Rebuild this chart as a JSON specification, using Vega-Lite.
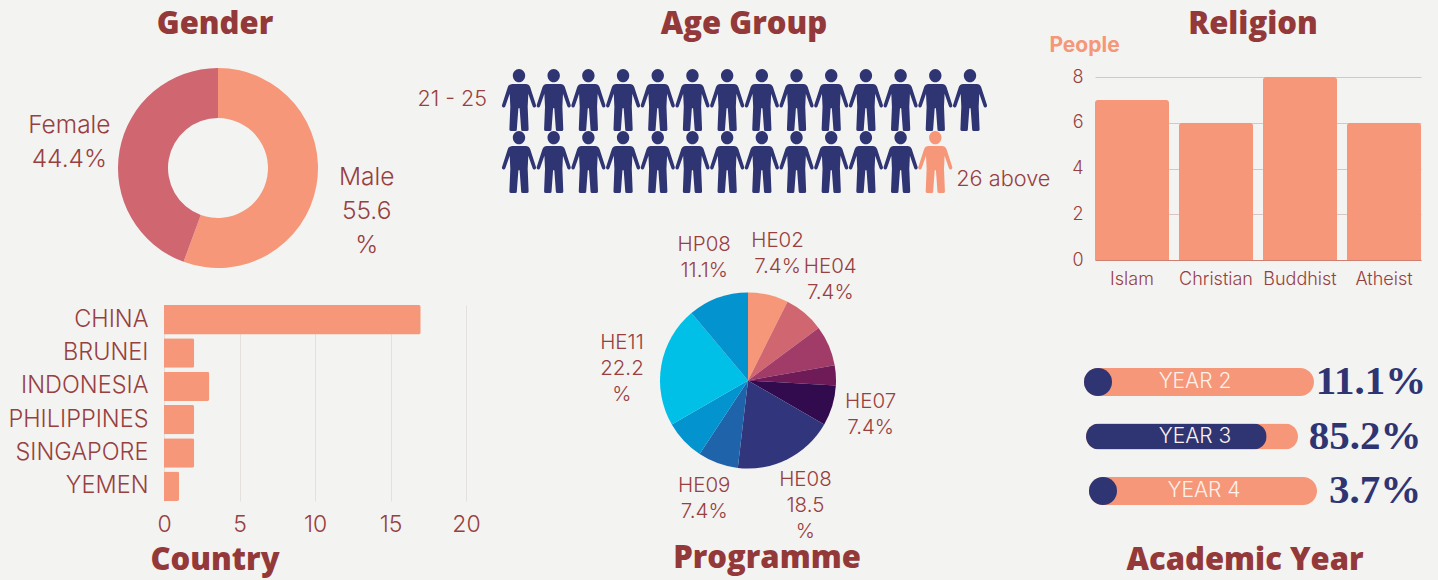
{
"$schema":"https://vega.github.io/schema/vega-lite/v6.json",
"background":"#f3f3f1",
"padding":0,
"spacing":0,
"bounds":"flush",
"align":"none",
"columns":3,
"resolve":{"scale":{"color":"independent","theta":"independent"}},
"config":{"view":{"stroke":null},"font":"Inter","text":{"font":"Inter","color":"#97403f","fontWeight":300},
"title":{"font":"Open Sans","fontWeight":800,"fontSize":31,"color":"#943939","frame":"group"}},
"concat":[
 {"width":436,"height":336,
  "title":{"text":"Gender","orient":"top","anchor":"middle","offset":-41,"dx":-3},
  "data":{"values":[{"gender":"Male","share":55.6,"order":1,"lines":["Male","55.6","%"]},{"gender":"Female","share":44.4,"order":2,"lines":["Female","44.4%"]}]},
  "transform":[{"stack":"share","groupby":[],"sort":[{"field":"order"}],"as":["t0","t1"]},{"calculate":"(datum.t0+datum.t1)/2","as":"tm"}],
  "layer":[
   {"mark":{"type":"arc","innerRadius":50,"outerRadius":100},
    "encoding":{"theta":{"field":"t0","type":"quantitative","stack":null,"scale":{"domain":[0,100],"range":[0,6.2832]}},"theta2":{"field":"t1"},
     "color":{"field":"gender","type":"nominal","legend":null,"scale":{"domain":["Male","Female"],"range":["#f59778","#cf6670"]}}}},
   {"mark":{"type":"text","radius":151,"dy":-16,"fontSize":24.5,"lineHeight":34},
    "encoding":{"theta":{"field":"tm","type":"quantitative","stack":null},"text":{"field":"lines"}}}
  ]},
 {"width":624,"height":336,
  "title":{"text":"Age Group","orient":"top","anchor":"middle","offset":-41,"dx":-4},
  "data":{"values":[
   {"col":1,"row":1,"group":"21 - 25"},{"col":2,"row":1,"group":"21 - 25"},{"col":3,"row":1,"group":"21 - 25"},{"col":4,"row":1,"group":"21 - 25"},{"col":5,"row":1,"group":"21 - 25"},{"col":6,"row":1,"group":"21 - 25"},{"col":7,"row":1,"group":"21 - 25"},{"col":8,"row":1,"group":"21 - 25"},{"col":9,"row":1,"group":"21 - 25"},{"col":10,"row":1,"group":"21 - 25"},{"col":11,"row":1,"group":"21 - 25"},{"col":12,"row":1,"group":"21 - 25"},{"col":13,"row":1,"group":"21 - 25"},{"col":14,"row":1,"group":"21 - 25"},
   {"col":1,"row":2,"group":"21 - 25"},{"col":2,"row":2,"group":"21 - 25"},{"col":3,"row":2,"group":"21 - 25"},{"col":4,"row":2,"group":"21 - 25"},{"col":5,"row":2,"group":"21 - 25"},{"col":6,"row":2,"group":"21 - 25"},{"col":7,"row":2,"group":"21 - 25"},{"col":8,"row":2,"group":"21 - 25"},{"col":9,"row":2,"group":"21 - 25"},{"col":10,"row":2,"group":"21 - 25"},{"col":11,"row":2,"group":"21 - 25"},{"col":12,"row":2,"group":"21 - 25"},{"col":13,"row":2,"group":"26 above"}
  ]},
  "encoding":{
   "x":{"field":"col","type":"quantitative","axis":null,"scale":{"domain":[1,14],"range":[83,534],"nice":false,"zero":false}},
   "y":{"field":"row","type":"quantitative","axis":null,"scale":{"domain":[1,2],"range":[100,162],"nice":false,"zero":false}}
  },
  "layer":[
   {"mark":{"type":"point","filled":true,"opacity":1,"size":3844,"shape":"M0 -1C.11 -1 .2 -.9 .2 -.79C.2 -.67 .11 -.57 0 -.57C-.11 -.57 -.2 -.67 -.2 -.79C-.2 -.9 -.11 -1 0 -1ZM-.22 -.52L.22 -.52Q.32 -.52 .36 -.42L.55 .17Q.56 .22 .51 .24Q.46 .25 .44 .2L.3 -.2L.28 .22L.31 .95Q.31 1 .25 1L.12 1Q.07 1 .07 .95L.02 .27L-.02 .27L-.07 .95Q-.07 1 -.12 1L-.25 1Q-.31 1 -.31 .95L-.28 .22L-.3 -.2L-.44 .2Q-.46 .25 -.51 .24Q-.56 .22 -.55 .17L-.36 -.42Q-.32 -.52 -.22 -.52Z"},
    "encoding":{"color":{"field":"group","type":"nominal","legend":null,"scale":{"domain":["21 - 25","26 above"],"range":["#2f3473","#f59778"]}}}},
   {"transform":[{"filter":"datum.col===1 && datum.row===1"}],
    "mark":{"type":"text","align":"right","dx":-32,"fontSize":21.5},
    "encoding":{"text":{"field":"group"}}},
   {"transform":[{"filter":"datum.col===13 && datum.row===2"}],
    "mark":{"type":"text","align":"left","dx":21,"dy":17,"fontSize":21.7},
    "encoding":{"text":{"field":"group"}}}
  ]},
 {"width":378,"height":336,
  "title":{"text":"Religion","orient":"top","anchor":"middle","offset":-41,"dx":4},
  "data":{"values":[{"religion":"Islam","people":7},{"religion":"Christian","people":6},{"religion":"Buddhist","people":8},{"religion":"Atheist","people":6}]},
  "mark":{"type":"bar","color":"#f59778","cornerRadiusEnd":3},
  "encoding":{
   "x":{"field":"religion","type":"nominal","title":null,"sort":null,"scale":{"range":[35,361],"paddingInner":0.119,"paddingOuter":0},
    "axis":{"offset":-76,"labelAngle":0,"ticks":false,"domainColor":"#cf7f70","labelPadding":10,"labelFontSize":18,"labelFont":"Inter","labelFontWeight":300,"labelColor":"#97403f"}},
   "y":{"field":"people","type":"quantitative","title":"People","scale":{"domain":[0,8],"range":[260,77],"nice":false},
    "axis":{"values":[0,2,4,6,8],"offset":-35,"domain":false,"ticks":false,"labelFlush":false,"labelPadding":12,"labelFontSize":18,"labelFont":"Inter","labelFontWeight":300,"labelColor":"#97403f","grid":true,"gridColor":"#d9c6c4",
     "titleAngle":0,"titleAlign":"center","titleBaseline":"alphabetic","titleX":-11,"titleY":51,"titleFont":"Inter","titleFontWeight":700,"titleFontSize":21,"titleColor":"#f59778"}}
  }},
 {"width":436,"height":134,
  "title":{"text":"Country","orient":"bottom","anchor":"middle","offset":10,"dx":-3},
  "data":{"values":[{"country":"CHINA","count":17},{"country":"BRUNEI","count":2},{"country":"INDONESIA","count":3},{"country":"PHILIPPINES","count":2},{"country":"SINGAPORE","count":2},{"country":"YEMEN","count":1}]},
  "mark":{"type":"bar","color":"#f59778","cornerRadiusEnd":2},
  "encoding":{
   "x":{"field":"count","type":"quantitative","title":null,"scale":{"domain":[0,20],"range":[164,466],"nice":false},
    "axis":{"values":[0,5,10,15,20],"offset":31,"domain":false,"ticks":false,"labelFlush":false,"labelPadding":12,"labelFontSize":23,"labelFont":"Inter","labelFontWeight":300,"labelColor":"#97403f","grid":true,"gridColor":"#e4e0dd"}},
   "y":{"field":"country","type":"nominal","title":null,"sort":null,"scale":{"range":[-31,165],"paddingInner":0.117,"paddingOuter":0},
    "axis":{"offset":-164,"domain":false,"ticks":false,"labelPadding":16,"labelFontSize":23.5,"labelFont":"Inter","labelFontWeight":300,"labelColor":"#97403f"}}
  }},
 {"width":624,"height":89,
  "title":{"text":"Programme","orient":"bottom","anchor":"middle","offset":2,"dx":19},
  "data":{"values":[
   {"prog":"HE02","share":7.4,"order":1,"lines":["HE02","7.4%"]},
   {"prog":"HE04","share":7.4,"order":2,"lines":["HE04","7.4%"]},
   {"prog":"HE05","share":7.4,"order":3},
   {"prog":"HE06","share":3.7,"order":4},
   {"prog":"HE07","share":7.4,"order":5,"lines":["HE07","7.4%"]},
   {"prog":"HE08","share":18.5,"order":6,"lines":["HE08","18.5","%"]},
   {"prog":"HE09","share":7.4,"order":7,"lines":["HE09","7.4%"]},
   {"prog":"HE10","share":7.4,"order":8},
   {"prog":"HE11","share":22.2,"order":9,"lines":["HE11","22.2","%"]},
   {"prog":"HP08","share":11.1,"order":10,"lines":["HP08","11.1%"]}
  ]},
  "transform":[{"stack":"share","groupby":[],"sort":[{"field":"order"}],"as":["t0","t1"]},{"calculate":"(datum.t0+datum.t1)/2","as":"tm"}],
  "layer":[
   {"mark":{"type":"arc","outerRadius":88},
    "encoding":{"theta":{"field":"t0","type":"quantitative","stack":null,"scale":{"domain":[0,99.9],"range":[0,6.2832]}},"theta2":{"field":"t1"},
     "color":{"field":"prog","type":"nominal","legend":null,"scale":{"domain":["HE02","HE04","HE05","HE06","HE07","HE08","HE09","HE10","HE11","HP08"],"range":["#f59778","#cf6670","#a13b68","#6e1b58","#320a4e","#31367c","#1f63aa","#0393ce","#00c0e8","#0393ce"]}}}},
   {"transform":[{"filter":"datum.lines"}],
    "mark":{"type":"text","radius":128,"dy":-15,"fontSize":20.5,"lineHeight":26},
    "encoding":{"theta":{"field":"tm","type":"quantitative","stack":null},"text":{"field":"lines"}}}
  ]},
 {"width":378,"height":244,
  "title":{"text":"Academic Year","orient":"bottom","anchor":"middle","offset":-34,"dx":-4},
  "data":{"values":[{"year":"YEAR 2","base":0,"track":100,"share":11.1,"pct":"11.1%"},{"year":"YEAR 3","base":0,"track":100,"share":85.2,"pct":"85.2%"},{"year":"YEAR 4","base":0,"track":100,"share":3.7,"pct":"3.7%"}]},
  "encoding":{"y":{"field":"year","type":"nominal","axis":null,"title":null,"scale":{"type":"point","padding":0,"domain":["YEAR 2","YEAR 3","YEAR 4"],"range":[46,155]}}},
  "resolve":{"scale":{"x":"independent"}},
  "layer":[
   {"transform":[{"filter":"datum.year==='YEAR 2'"}],
    "layer":[
     {"mark":{"type":"bar","height":28,"cornerRadius":14,"color":"#f59778"},"encoding":{"x":{"field":"track","type":"quantitative","axis":null,"scale":{"domain":[0,100],"range":[24,254],"nice":false}}}},
     {"mark":{"type":"point","filled":true,"opacity":1,"size":784,"shape":"circle","color":"#2f3473","xOffset":14},"encoding":{"x":{"field":"base","type":"quantitative"}}},
     {"mark":{"type":"text","fontSize":21,"color":"#fdf1ea","dx":111},"encoding":{"x":{"field":"base","type":"quantitative"},"text":{"field":"year"}}},
     {"mark":{"type":"text","font":"Liberation Serif","fontWeight":700,"fontSize":41,"color":"#2f3473","dx":287},"encoding":{"x":{"field":"base","type":"quantitative"},"text":{"field":"pct"}}}
    ]},
   {"transform":[{"filter":"datum.year==='YEAR 3'"}],
    "layer":[
     {"mark":{"type":"bar","height":26,"cornerRadius":13,"color":"#f59778"},"encoding":{"x":{"field":"track","type":"quantitative","axis":null,"scale":{"domain":[0,100],"range":[26,238],"nice":false}}}},
     {"mark":{"type":"bar","height":26,"cornerRadius":13,"color":"#2f3473"},"encoding":{"x":{"field":"share","type":"quantitative"}}},
     {"mark":{"type":"text","fontSize":21,"color":"#fdf1ea","dx":109},"encoding":{"x":{"field":"base","type":"quantitative"},"text":{"field":"year"}}},
     {"mark":{"type":"text","font":"Liberation Serif","fontWeight":700,"fontSize":41,"color":"#2f3473","dx":279},"encoding":{"x":{"field":"base","type":"quantitative"},"text":{"field":"pct"}}}
    ]},
   {"transform":[{"filter":"datum.year==='YEAR 4'"}],
    "layer":[
     {"mark":{"type":"bar","height":28,"cornerRadius":14,"color":"#f59778"},"encoding":{"x":{"field":"track","type":"quantitative","axis":null,"scale":{"domain":[0,100],"range":[29,257],"nice":false}}}},
     {"mark":{"type":"point","filled":true,"opacity":1,"size":784,"shape":"circle","color":"#2f3473","xOffset":14},"encoding":{"x":{"field":"base","type":"quantitative"}}},
     {"mark":{"type":"text","fontSize":21,"color":"#fdf1ea","dx":115},"encoding":{"x":{"field":"base","type":"quantitative"},"text":{"field":"year"}}},
     {"mark":{"type":"text","font":"Liberation Serif","fontWeight":700,"fontSize":41,"color":"#2f3473","dx":286},"encoding":{"x":{"field":"base","type":"quantitative"},"text":{"field":"pct"}}}
    ]}
  ]}
]}
